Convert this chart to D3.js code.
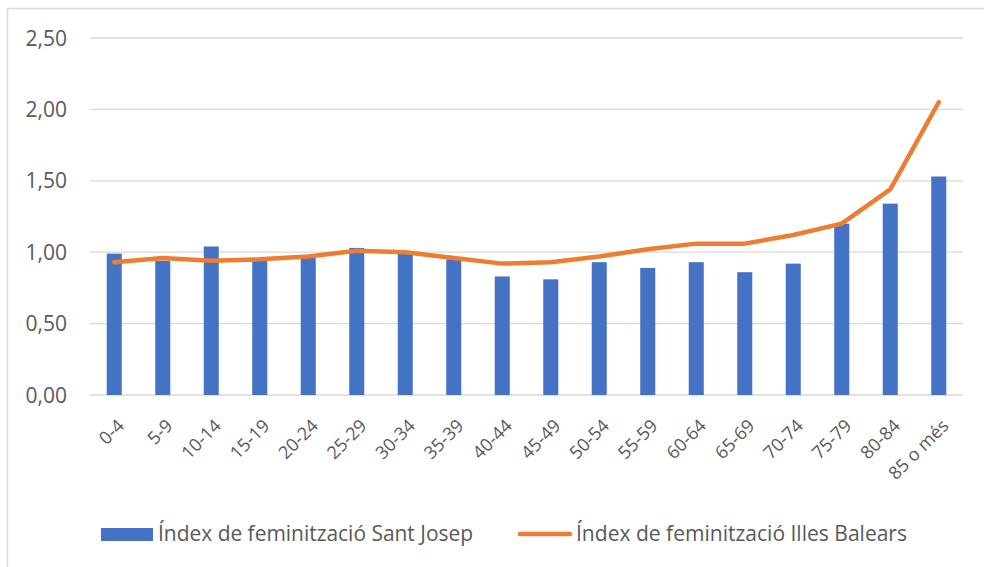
<!DOCTYPE html>
<html><head><meta charset="utf-8">
<script src="https://cdn.jsdelivr.net/npm/d3@7"></script>
<style>body{margin:0;background:#fff}svg{display:block}text{font-family:"Open Sans","Noto Sans",sans-serif;fill:#595959}</style>
</head><body>
<svg id="c" width="984" height="567"></svg>
<script>
const categories = ["0-4","5-9","10-14","15-19","20-24","25-29","30-34","35-39","40-44","45-49","50-54","55-59","60-64","65-69","70-74","75-79","80-84","85 o més"];
const santJosep = [0.99,0.94,1.04,0.94,0.96,1.03,0.99,0.95,0.83,0.81,0.93,0.89,0.93,0.86,0.92,1.20,1.34,1.53];
const illesBalears = [0.93,0.96,0.94,0.95,0.97,1.01,1.00,0.96,0.92,0.93,0.97,1.02,1.06,1.06,1.12,1.20,1.44,2.05];
const yTicks = [0,0.5,1,1.5,2,2.5];
const seriesNames = ["Índex de feminització Sant Josep","Índex de feminització Illes Balears"];

const svg = d3.select("#c");
svg.append("rect").attr("x",7.5).attr("y",8.5).attr("width",1100).attr("height",700)
  .attr("fill","#fff").attr("stroke","#d9d9d9").attr("stroke-width",1.5);

const x = d3.scaleBand().domain(categories).range([90,963]).paddingInner(0.69).paddingOuter(0.345);
const y = d3.scaleLinear().domain([0,2.5]).range([395,38]);
const fmt = d => d3.format(".2f")(d).replace(".",",");

const g = svg.append("g");
g.selectAll("line.grid").data(yTicks).join("line")
  .attr("x1",90).attr("x2",963).attr("y1",d=>y(d)).attr("y2",d=>y(d))
  .attr("stroke","#d9d9d9").attr("stroke-width",1.3);
g.selectAll("text.yl").data(yTicks).join("text")
  .attr("x",67).attr("y",d=>y(d)).attr("dy","0.36em").attr("text-anchor","end")
  .style("font-size","21px").text(fmt);
g.selectAll("rect.bar").data(santJosep).join("rect")
  .attr("x",(d,i)=>x(categories[i])).attr("width",x.bandwidth())
  .attr("y",d=>y(d)).attr("height",d=>y(0)-y(d)).attr("fill","#4472c4");
const line = d3.line().x((d,i)=>x(categories[i])+x.bandwidth()/2).y(d=>y(d));
g.append("path").datum(illesBalears).attr("d",line).attr("fill","none")
  .attr("stroke","#ed7d31").attr("stroke-width",4.5).attr("stroke-linecap","round").attr("stroke-linejoin","round");
g.selectAll("text.xl").data(categories).join("text")
  .attr("transform",d=>`translate(${x(d)+x.bandwidth()/2+11},${427}) rotate(-45)`)
  .attr("text-anchor","end").style("font-size","18px").text(d=>d);
const lg = svg.append("g");
lg.append("rect").attr("x",101).attr("y",528).attr("width",52).attr("height",13).attr("fill","#4472c4");
lg.append("text").attr("x",158).attr("y",541).style("font-size","21px")
  .attr("textLength",315).attr("lengthAdjust","spacingAndGlyphs").text(seriesNames[0]);
lg.append("line").attr("x1",520).attr("x2",570).attr("y1",534).attr("y2",534)
  .attr("stroke","#ed7d31").attr("stroke-width",4.5).attr("stroke-linecap","round");
lg.append("text").attr("x",576).attr("y",541).style("font-size","21px")
  .attr("textLength",331).attr("lengthAdjust","spacingAndGlyphs").text(seriesNames[1]);
</script>
</body></html>
